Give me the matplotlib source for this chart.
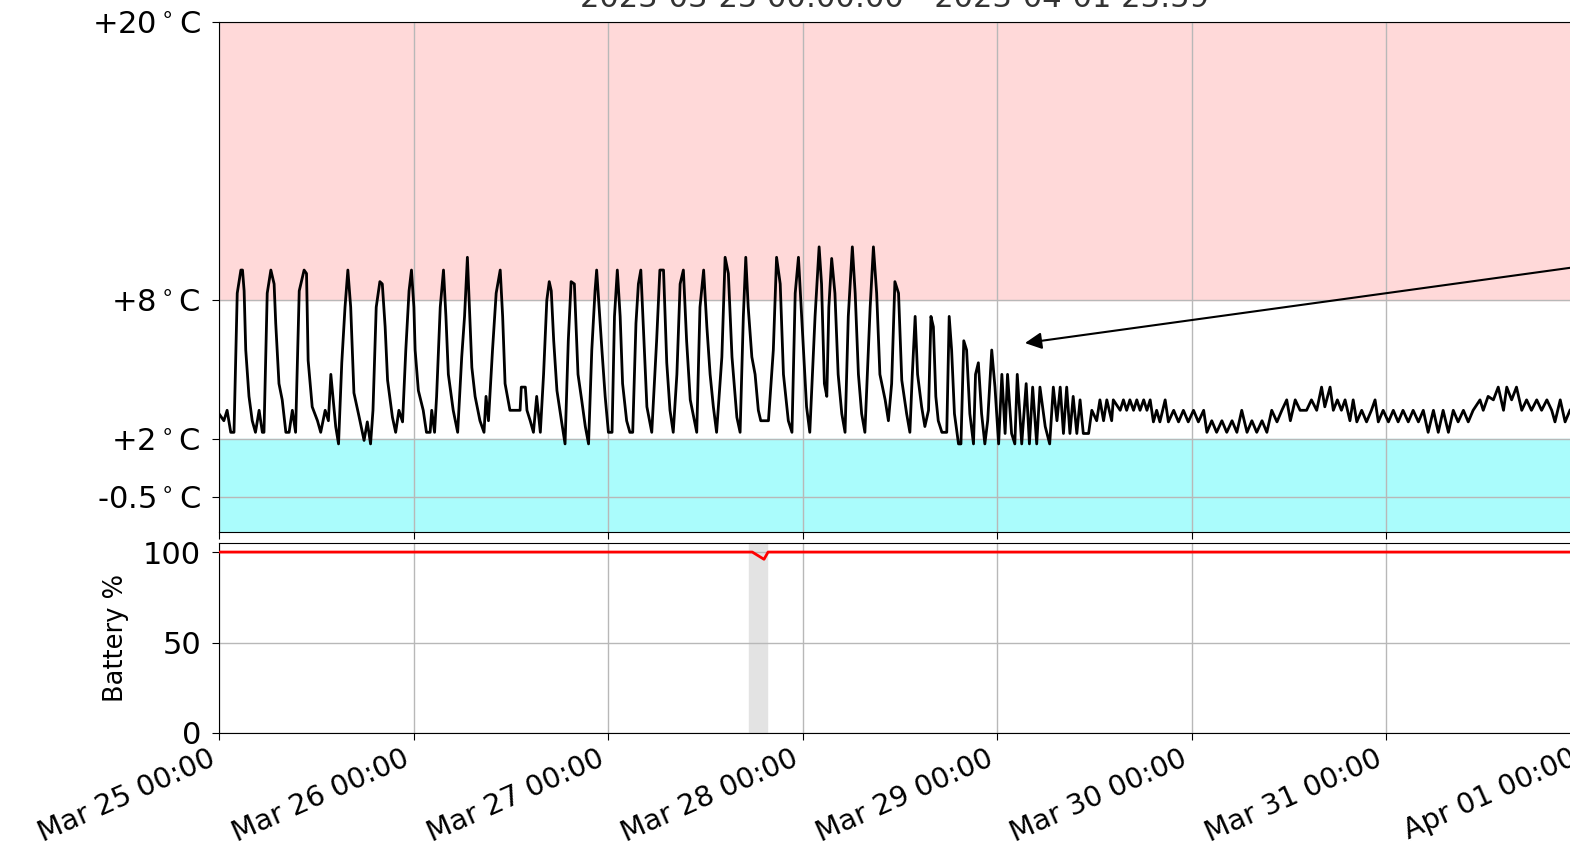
import numpy as np
import pandas as pd
import matplotlib
matplotlib.use("Agg")
import matplotlib.pyplot as plt
import matplotlib.dates as mdates

START = pd.Timestamp("2023-03-25 00:00")

# temperature log: hours since start, deg C
temp_hours = [
    0.0, 0.6, 1.0, 1.45, 1.85, 2.25, 2.7, 2.9, 3.1, 3.3, 3.7, 4.1, 4.5, 4.95, 5.35, 5.55,
    5.95, 6.4, 6.8, 7.0, 7.4, 7.8, 8.25, 8.65, 9.05, 9.45, 9.9, 10.5, 10.8, 11.0, 11.5,
    12.15, 12.55, 13.1, 13.5, 13.8, 14.05, 14.4, 14.75, 15.15, 15.55, 15.9, 16.25, 16.65,
    17.3, 17.9, 18.3, 18.7, 19.0, 19.4, 19.85, 20.15, 20.5, 20.8, 21.4, 21.8, 22.2, 22.65,
    23.05, 23.45, 23.75, 24.05,
    24.2, 24.6, 25.2, 25.6, 26.05, 26.25, 26.6, 26.85, 27.3, 27.7, 28.0, 28.3, 28.9, 29.45,
    29.95, 30.3, 30.65, 30.9, 31.2, 31.6, 32.2, 32.7, 32.95, 33.25, 33.75, 34.2, 34.7, 35.0,
    35.3, 35.9, 37.15, 37.3, 37.8, 38.0, 38.4, 38.8, 39.2, 39.65, 40.05, 40.45, 40.75, 41.0,
    41.3, 41.7, 42.3, 42.7, 43.1, 43.45, 43.85, 44.3, 44.75, 45.2, 45.6, 46.0, 46.4, 46.6,
    46.9, 47.25, 47.65, 48.05, 48.5, 48.8,
    49.15, 49.5, 49.8, 50.3, 50.7, 51.05, 51.45, 51.75, 52.05, 52.3, 52.8, 53.4, 54.0, 54.4,
    54.85, 55.25, 55.65, 56.05, 56.5, 56.9, 57.3, 57.7, 58.15, 58.95, 59.35, 59.8, 60.2,
    60.6, 61.0, 61.4, 62.05, 62.45, 62.85, 63.3, 63.9, 64.3, 64.7, 65.0, 65.3, 65.75, 66.15,
    66.55, 66.85, 67.8, 68.4, 68.8, 69.25, 69.65, 70.25, 70.7, 71.1, 71.5, 71.9, 72.5,
    72.9, 73.55, 74.05, 74.35, 74.7, 75.0, 75.25, 75.6, 76.0, 76.4, 76.85, 77.25, 77.65,
    78.15, 78.5, 78.9, 79.3, 79.7, 80.35, 80.75, 81.15, 81.55, 82.2, 82.6, 83.0, 83.4,
    83.85, 84.25, 84.85, 85.25, 85.55, 85.9, 86.2, 86.7, 87.1, 87.55, 87.85, 88.15, 88.45,
    88.75, 89.2, 89.8, 90.1, 90.4, 90.75, 91.25, 91.55, 91.9, 92.25, 92.65, 93.1, 93.35,
    93.7, 94.1, 94.5, 94.85, 95.35, 95.75, 96.2, 96.6,
    97.0, 97.3, 97.8, 98.2, 98.5, 99.05, 99.6, 100.0, 100.4, 100.9, 101.3, 101.95, 102.5,
    102.95, 103.4, 103.8, 104.2, 104.6, 105.0, 105.4, 105.85, 106.25, 106.65, 107.3, 107.7,
    108.3, 108.7, 109.15, 109.55, 110.15, 110.35, 111.2, 111.6, 112.0, 112.4, 112.85,
    113.25, 113.65, 114.1, 114.5, 114.9, 115.3, 115.7, 116.1, 116.75, 117.15, 117.8, 118.4,
    119.0, 119.6, 120.25, 120.85, 121.5, 121.9, 122.5, 123.1, 123.75, 124.35, 125.0, 125.6,
    126.2, 126.85, 127.45, 128.05, 128.7, 129.3, 129.9, 130.55, 131.15, 131.75, 132.2,
    132.8, 133.4, 134.2, 134.8, 135.45, 136.05, 136.45, 137.1, 137.5, 138.0, 138.5, 138.95,
    139.55, 139.95, 140.4, 141.0, 141.6, 142.2, 142.65, 143.05, 143.65, 144.3, 144.9, 145.5,
    146.1, 146.75, 147.35, 148.0, 148.6, 149.2, 149.85, 150.45, 151.05, 151.7, 152.3, 152.9,
    153.55, 154.15, 154.75, 155.6, 156.0, 156.6, 157.25, 157.85, 158.5, 158.9, 159.5, 160.1,
    160.75, 161.35, 161.95, 162.6, 163.2, 163.85, 164.45, 164.85, 165.5, 166.1, 166.7,
]
temp_values = [
    3.1, 2.8, 3.25, 2.3, 2.3, 8.3, 9.3, 9.3, 8.4, 5.85, 3.85, 2.8, 2.3, 3.25, 2.3, 2.3,
    8.3, 9.3, 8.7, 7.0, 4.4, 3.7, 2.3, 2.3, 3.25, 2.3, 8.4, 9.3, 9.15, 5.4, 3.4,
    2.8, 2.3, 3.25, 2.8, 4.8, 3.85, 2.55, 1.8, 5.3, 7.7, 9.3, 7.7, 4.0,
    2.95, 1.95, 2.75, 1.8, 3.25, 7.7, 8.8, 8.7, 6.85, 4.55, 2.95, 2.3, 3.25, 2.75,
    5.85, 8.4, 9.3, 7.7,
    5.85, 4.1, 3.25, 2.3, 2.3, 3.25, 2.3, 3.85, 7.7, 9.3, 7.3, 4.8, 3.25, 2.3,
    5.55, 7.3, 9.85, 7.7, 5.1, 3.85, 2.8, 2.3, 3.85, 2.8, 5.85, 8.3, 9.3, 7.3,
    4.4, 3.25, 3.25, 4.25, 4.25, 3.25, 2.8, 2.3, 3.85, 2.3, 4.8, 8.0, 8.8, 8.4,
    6.25, 4.1, 2.7, 1.8, 6.25, 8.8, 8.7, 4.8, 3.7, 2.55, 1.8, 5.85, 8.4, 9.3,
    7.7, 5.85, 3.85, 2.3, 2.3, 7.3,
    9.3, 7.3, 4.4, 2.8, 2.3, 2.3, 7.0, 8.7, 9.3, 7.3, 3.4, 2.3, 6.25, 9.3,
    9.3, 5.3, 3.25, 2.3, 4.8, 8.7, 9.3, 6.25, 3.7, 2.3, 7.7, 9.3, 6.85,
    4.8, 3.4, 2.3, 5.55, 9.85, 9.15, 5.55, 2.95, 2.3, 7.3, 9.85, 7.7, 5.55, 4.8,
    3.25, 2.8, 2.8, 5.85, 9.85, 8.7, 4.8, 2.8, 2.3, 8.3, 9.85, 7.3, 3.4,
    2.3, 7.3, 10.3, 8.7, 4.4, 3.85, 7.7, 9.8, 8.3, 4.8, 3.1, 2.3, 7.3,
    10.3, 8.3, 4.8, 3.1, 2.3, 7.7, 10.3, 8.3, 4.8, 3.7, 2.8, 4.4, 8.8,
    8.3, 4.55, 3.1, 2.3, 4.8, 7.3, 4.8, 3.4, 2.55, 3.25, 7.3, 6.85, 3.85,
    2.8, 2.3, 2.3, 7.3, 5.85, 3.1, 1.8, 1.8, 6.25, 5.85, 3.1, 1.8, 4.8,
    5.3, 3.1, 1.8, 2.8, 5.85, 4.25, 1.8, 4.8,
    2.25, 4.8, 2.25, 1.8, 4.8, 1.8, 4.4, 1.8, 4.25, 1.8, 4.25, 2.55, 1.8,
    4.25, 2.8, 4.25, 2.25, 4.25, 2.25, 3.85, 2.25, 3.7, 2.25, 2.25, 3.25,
    2.8, 3.7, 2.8, 3.7, 2.8, 3.7, 3.25, 3.7, 3.25, 3.7, 3.25,
    3.7, 3.25, 3.7, 3.25, 3.7, 2.75, 3.25, 2.75, 3.7, 2.75, 3.25, 2.75,
    3.25, 2.75, 3.25, 2.75, 3.25, 2.3, 2.8, 2.3, 2.8, 2.3, 2.8, 2.3,
    3.25, 2.3, 2.8, 2.3, 2.8, 2.3, 3.25, 2.75, 3.25, 3.7, 2.8,
    3.7, 3.25, 3.25, 3.7, 3.25, 4.25, 3.4, 4.25, 3.25, 3.7, 3.25, 3.7,
    2.8, 3.7, 2.75, 3.25, 2.75, 3.25, 3.7, 2.75, 3.25, 2.75, 3.25, 2.75,
    3.25, 2.75, 3.25, 2.75, 3.25, 2.3, 3.25, 2.3, 3.25, 2.3, 3.25, 2.75,
    3.25, 2.75, 3.25, 3.7, 3.25, 3.85, 3.7, 4.25, 3.25, 4.25, 3.7, 4.25,
    3.25, 3.7, 3.25, 3.7, 3.25, 3.7, 3.25, 2.75, 3.7, 2.75, 3.25,
]

# battery level
batt_hours = [0.0, 65.8, 67.25, 67.75, 168.0]
batt_values = [100, 100, 96, 100, 100]
gap_start, gap_end = 65.4, 67.6   # hours with no battery reading

temp_ticks = [20, 8, 2, -0.5]
temp_labels = [r"+20$^\circ$C", r"+8$^\circ$C", r"+2$^\circ$C", r"-0.5$^\circ$C"]


def to_time(h):
    return START + pd.to_timedelta(np.asarray(h), unit="h")


def main():
    W, H = 1570, 851
    fig = plt.figure(figsize=(W / 100, H / 100), dpi=100)

    left = 219 / W
    width = 8 * 194.5 / W          # axes runs past the right edge
    ax = fig.add_axes([left, 1 - 532 / H, width, (532 - 22) / H])
    axb = fig.add_axes([left, 1 - 733 / H, width, (733 - 543) / H], sharex=ax)

    # temperature
    ax.axhspan(8, 20, color="#ffd9d9", zorder=0)
    ax.axhspan(-2, 2, color="#aafcfc", zorder=0)
    ax.plot(to_time(temp_hours), temp_values, color="black", lw=2, zorder=3)
    ax.set_ylim(-2, 20)
    ax.set_yticks(temp_ticks)
    ax.set_yticklabels(temp_labels)
    ax.grid(True, color="#b8b8b8", lw=1, zorder=1)
    ax.tick_params(labelbottom=False, labelsize=22, length=5, pad=8)

    ax.annotate("", xy=(to_time(99.45), 6.15), xytext=(to_time(190), 10.52),
                arrowprops=dict(arrowstyle="-|>", color="black", lw=1.5,
                                mutation_scale=25, shrinkA=0, shrinkB=0),
                annotation_clip=False)

    # battery
    axb.axvspan(to_time(gap_start), to_time(gap_end), color="#e3e3e3", zorder=0)
    axb.plot(to_time(batt_hours), batt_values, color="red", lw=2, zorder=3)
    axb.set_ylim(0, 105)
    axb.set_yticks([0, 50, 100])
    axb.set_ylabel("Battery %", fontsize=18.5, labelpad=10)
    axb.grid(True, color="#b8b8b8", lw=1, zorder=1)
    axb.tick_params(labelsize=22, length=5, pad=8)
    axb.tick_params(axis="x", labelsize=20.5, pad=3)

    axb.set_xlim(START, START + pd.Timedelta(days=8))
    axb.xaxis.set_major_locator(mdates.DayLocator())
    axb.xaxis.set_major_formatter(mdates.DateFormatter("%b %d %H:%M"))
    plt.setp(axb.get_xticklabels(), rotation=24, ha="right")

    fig.text(895 / W, 1 - 7 / H, "2023-03-25 00:00:00 - 2023-04-01 23:59",
             ha="center", va="baseline", fontsize=22, color="#333333")

    fig.savefig("out.png", dpi=100)


if __name__ == "__main__":
    main()
